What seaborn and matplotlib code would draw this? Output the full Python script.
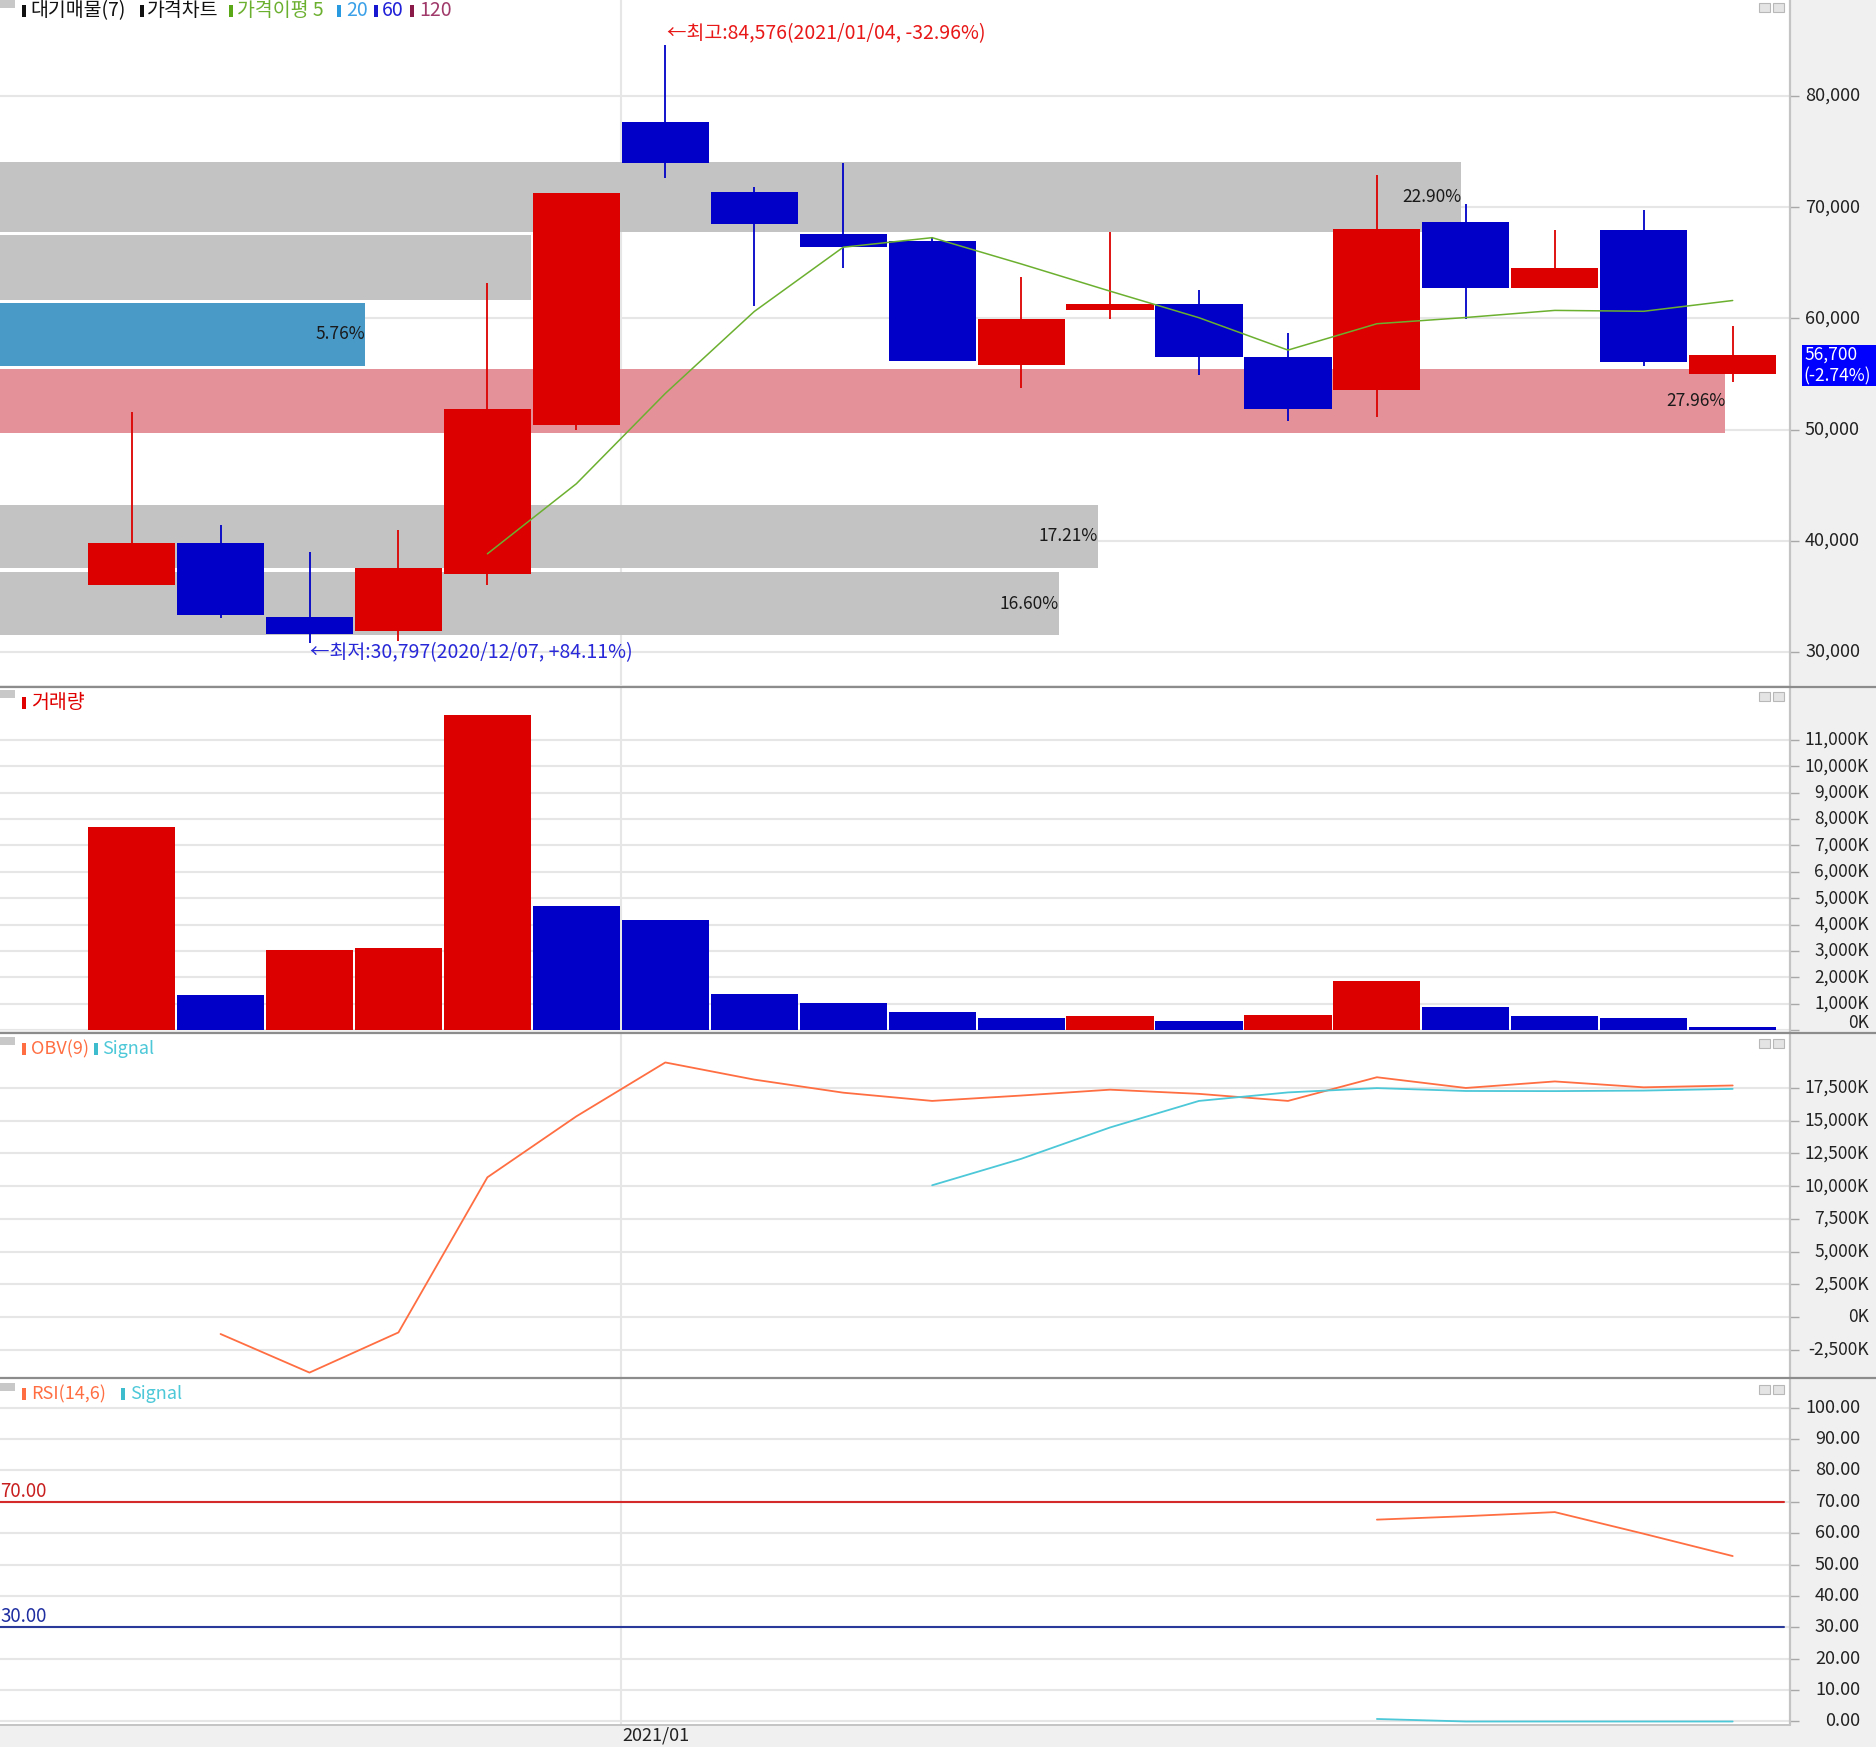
import numpy as np
import pandas as pd
import matplotlib
matplotlib.use("Agg")
import matplotlib.pyplot as plt
import matplotlib.transforms as mtransforms
from matplotlib.patches import Rectangle
from matplotlib.lines import Line2D
import seaborn as sns

# ---------------- data (weekly candles) ----------------
weeks = ['2020/11/23', '2020/11/30', '2020/12/07', '2020/12/14', '2020/12/21', '2020/12/28',
         '2021/01/04', '2021/01/11', '2021/01/18', '2021/01/25', '2021/02/01', '2021/02/08',
         '2021/02/15', '2021/02/22', '2021/03/01', '2021/03/08', '2021/03/15', '2021/03/22',
         '2021/03/29']
opens  = [36000, 39800, 33150, 31850, 37000, 50450, 77650, 71400, 67600, 67000, 55850, 60800,
          61250, 56500, 53600, 68700, 62750, 67950, 55000]
highs  = [51550, 41400, 38950, 41000, 63200, 71300, 84576, 71800, 73950, 67300, 63750, 67800,
          62550, 58650, 72900, 70300, 67950, 69750, 59300]
lows   = [36000, 33100, 30797, 30950, 36050, 49950, 72650, 61150, 64500, 56200, 53700, 59950,
          54900, 50800, 51100, 59950, 62750, 55750, 54250]
closes = [39800, 33350, 31600, 37550, 51850, 71300, 73950, 68450, 66400, 56200, 59950, 61250,
          56500, 51850, 68050, 62750, 64500, 56100, 56700]
last_change_pct = -2.74

volume_k   = [7690, 1320, 3026, 3125, 11960, 4717, 4164, 1380, 1039, 698, 459, 523, 345, 584,
              1873, 865, 523, 459, 106]
volume_dir = ['up', 'down', 'up', 'up', 'up', 'down', 'down', 'down', 'down', 'down', 'down',
              'up', 'down', 'up', 'up', 'down', 'down', 'down', 'down']

ma5_idx = list(range(4, 19))
ma5     = [38830, 45130, 53250, 60620, 66400, 67260, 64900, 62450, 60060, 57150, 59520, 60080,
           60720, 60640, 61610]

obv_idx   = list(range(1, 19))
obv_k     = [-1300, -4250, -1180, 10680, 15340, 19460, 18150, 17150, 16520, 16930, 17380, 17060,
             16520, 18330, 17510, 18010, 17560, 17700]
obv_sig_idx = list(range(9, 19))
obv_sig_k   = [10070, 12090, 14490, 16520, 17170, 17500, 17280, 17270, 17310, 17440]

rsi_idx = [14, 15, 16, 17, 18]
rsi     = [64.3, 65.4, 66.7, 59.8, 52.7]
rsi_sig = [0.8, 0.0, 0.0, 0.0, 0.0]

# supply (대기매물) bands
band_low   = [31500, 37550, 43600, 49650, 55750, 61670, 67760]
band_high  = [37220, 43260, 49350, 55450, 61360, 67460, 74060]
band_len   = [16.60, 17.21, 0.00, 27.04, 5.72, 8.33, 22.90]
band_pct   = [16.60, 17.21, 0.00, 27.96, 5.76, 8.33, 22.90]
band_kind  = ['gray', 'gray', 'gray', 'max', 'current', 'gray', 'gray']
band_label = [True, True, False, True, True, False, True]

price_ticks = [30000, 40000, 50000, 60000, 70000, 80000]
vol_ticks   = list(range(0, 12000, 1000))
obv_ticks   = list(range(-2500, 20000, 2500))
rsi_ticks   = list(range(0, 110, 10))
month_label = '2021/01'
month_pos   = 5.5

# ---------------- style ----------------
sns.set_theme(style="white")
plt.rcParams['font.family'] = ['Noto Sans CJK KR', 'DejaVu Sans']
plt.rcParams['axes.unicode_minus'] = False

RED = '#dc0000'
BLUE = '#0000c8'
GRID = '#e6e6e6'
C_GRAY_BAND = '#c3c3c3'
C_MAX_BAND = '#e59199'
C_CUR_BAND = '#4a9ac8'
C_MA5 = '#6cb030'
C_OBV = '#ff6e42'
C_SIG = '#4cc8d8'

W, H = 1876, 1747
fig = plt.figure(figsize=(W / 100, H / 100), dpi=100, facecolor='#f0f0f0')

def rect(x0, y0, x1, y1):
    return [x0 / W, 1 - y1 / H, (x1 - x0) / W, (y1 - y0) / H]

PR = 1789
XL = (-1.4795, 18.633)
n = len(closes)
idx = np.arange(n)

def style_axes(a, ticks, ylim):
    a.set_xlim(*XL)
    a.set_ylim(*ylim)
    a.set_yticks(ticks)
    a.set_xticks([])
    a.yaxis.tick_right()
    a.tick_params(axis='y', length=7, width=1, color='#a8a8a8', labelright=False, direction='out')
    for s in a.spines.values():
        s.set_visible(False)

def right_labels(a, ticks, fmt, xpix, fs, shift=None):
    tr = mtransforms.blended_transform_factory(fig.transFigure, a.transData)
    for t in ticks:
        dy = 0
        if shift and t in shift:
            dy = shift[t]
        a.annotate(fmt(t), xy=(xpix / W, t), xycoords=tr, xytext=(0, dy), textcoords='offset points',
                   ha='right', va='center', fontsize=fs, color='#222222', annotation_clip=False)

# ---------------- price panel ----------------
PYL = (27032, 88633)
axb = fig.add_axes(rect(0, 0, PR, 685), zorder=0)
axb.set_facecolor('white')
axb.set_xlim(0, PR / 63.8)
axb.set_ylim(*PYL)
axb.set_xticks([])
axb.set_yticks(price_ticks)
axb.tick_params(axis='y', length=0, labelleft=False)
axb.grid(axis='y', color=GRID, lw=1.5)
for s in axb.spines.values():
    s.set_visible(False)

ax = fig.add_axes(rect(0, 0, PR, 685), zorder=1)
ax.patch.set_alpha(0)
style_axes(ax, price_ticks, PYL)

# month grid line (below bands)
trm = mtransforms.blended_transform_factory(ax.transData, axb.transAxes)
axb.plot([month_pos, month_pos], [0, 1], transform=trm, color=GRID, lw=1.5, zorder=0.5)

band_colors = {'gray': C_GRAY_BAND, 'max': C_MAX_BAND, 'current': C_CUR_BAND}
for lo, hi, ln, pc, kind, show in zip(band_low, band_high, band_len, band_pct, band_kind, band_label):
    if ln <= 0:
        continue
    axb.barh((lo + hi) / 2, ln, height=hi - lo, left=0, color=band_colors[kind], linewidth=0, zorder=2)
    if show:
        axb.text(ln, (lo + hi) / 2, f"{pc:.2f}%", ha='right', va='center', fontsize=12.5,
                 color='#1a1a1a', zorder=3)

# candles
cols = [RED if c >= o else BLUE for o, c in zip(opens, closes)]
ax.vlines(idx, lows, highs, colors=cols, lw=1.3, zorder=3)
body_lo = [min(o, c) for o, c in zip(opens, closes)]
body_h = [max(abs(c - o), 150) for o, c in zip(opens, closes)]
ax.bar(idx, body_h, bottom=body_lo, width=0.98, color=cols, linewidth=0, zorder=4)

sns.lineplot(x=ma5_idx, y=ma5, ax=ax, color=C_MA5, linewidth=1.1, zorder=5, legend=False)

hi_i = int(np.argmax(highs))
lo_i = int(np.argmin(lows))
ax.annotate(f"←최고:{highs[hi_i]:,}({weeks[hi_i]}, -32.96%)", xy=(hi_i, highs[hi_i]),
            xytext=(1.5, 8.5), textcoords='offset points', ha='left', va='center',
            fontsize=14, color='#e81818', zorder=6)
ax.annotate(f"←최저:{lows[lo_i]:,}({weeks[lo_i]}, +84.11%)", xy=(lo_i, lows[lo_i]),
            xytext=(0.7, -6.5), textcoords='offset points', ha='left', va='center',
            fontsize=14, color='#2828d8', zorder=6)
ax.set_ylabel('')
ax.set_xlabel('')

right_labels(ax, price_ticks, lambda v: f"{v:,}", 1860, 13)

# last price tag
fig.add_artist(Rectangle((1802 / W, 1 - 386 / H), 74 / W, 41 / H, transform=fig.transFigure,
                         facecolor='#0000ff', edgecolor='none', zorder=10))
fig.text(1804 / W, 1 - 355 / H, f"{closes[-1]:,}", color='white', fontsize=12.5, va='center',
         ha='left', zorder=11)
fig.text(1803 / W, 1 - 376 / H, f"({last_change_pct:.2f}%)", color='white', fontsize=12.5,
         va='center', ha='left', zorder=11)

# ---------------- volume panel ----------------
axv = fig.add_axes(rect(0, 688, PR, 1030))
axv.set_facecolor('white')
style_axes(axv, vol_ticks, (0, 12969))
axv.grid(axis='y', color=GRID, lw=1.5)
axv.axvline(month_pos, color=GRID, lw=1.5, zorder=0.5)
vcols = [RED if d == 'up' else BLUE for d in volume_dir]
axv.bar(idx, volume_k, width=0.98, color=vcols, linewidth=0, zorder=3)
right_labels(axv, vol_ticks, lambda v: f"{v:,}K", 1869, 12.5, shift={0: 5})

# ---------------- OBV panel ----------------
axo = fig.add_axes(rect(0, 1034, PR, 1377))
axo.set_facecolor('white')
style_axes(axo, obv_ticks, (-4587, 21636))
axo.grid(axis='y', color=GRID, lw=1.5)
axo.axvline(month_pos, color=GRID, lw=1.5, zorder=0.5)
sns.lineplot(x=obv_idx, y=obv_k, ax=axo, color=C_OBV, linewidth=1.3, zorder=4, legend=False)
sns.lineplot(x=obv_sig_idx, y=obv_sig_k, ax=axo, color=C_SIG, linewidth=1.3, zorder=4, legend=False)
axo.set_ylabel('')
right_labels(axo, obv_ticks, lambda v: f"{v:,}K", 1869, 12.5)

# ---------------- RSI panel ----------------
axr = fig.add_axes(rect(0, 1379, PR, 1724))
axr.set_facecolor('white')
style_axes(axr, rsi_ticks, (-0.8, 109.1))
axr.grid(axis='y', color=GRID, lw=1.5)
axr.axvline(month_pos, color=GRID, lw=1.5, zorder=0.5)
axr.plot([XL[0], 18.58], [70, 70], color='#d42a2a', lw=1.5, zorder=3)
axr.plot([XL[0], 18.58], [30, 30], color='#2a3a9a', lw=1.5, zorder=3)
axr.text(XL[0] + 0.005, 70, '70.00', color='#c81e1e', fontsize=13.5, ha='left', va='bottom')
axr.text(XL[0] + 0.005, 30, '30.00', color='#1e2ea0', fontsize=13.5, ha='left', va='bottom')
sns.lineplot(x=rsi_idx, y=rsi, ax=axr, color=C_OBV, linewidth=1.3, zorder=4, legend=False)
sns.lineplot(x=rsi_idx, y=rsi_sig, ax=axr, color=C_SIG, linewidth=1.3, zorder=4, legend=False)
axr.set_ylabel('')
right_labels(axr, rsi_ticks, lambda v: f"{v:.2f}", 1860, 13)

# x label
trx = mtransforms.blended_transform_factory(axr.transData, fig.transFigure)
axr.text(month_pos + 0.02, 1 - 1736 / H, month_label, transform=trx, ha='left', va='center',
         fontsize=13, color='#222222', clip_on=False)

# ---------------- frame lines ----------------
def fline(x0, y0, x1, y1, color, lw):
    fig.add_artist(Line2D([x0 / W, x1 / W], [1 - y0 / H, 1 - y1 / H], transform=fig.transFigure,
                          color=color, lw=lw, zorder=9))

fline(PR + 0.5, 0, PR + 0.5, 1725, '#c4c4c4', 1.6)
fline(0, 1725, PR + 1, 1725, '#c4c4c4', 1.4)
for ysep in (686.5, 1032.5, 1378):
    fline(0, ysep, W, ysep, '#8c8c8c', 1.6)

# ---------------- legends ----------------
def marker(x, y, color):
    fig.add_artist(Rectangle((x / W, 1 - (y + 6) / H), 4 / W, 12 / H, transform=fig.transFigure,
                             facecolor=color, edgecolor='none', zorder=12))

def ftext(x, y, s, color, fs=14):
    fig.text(x / W, 1 - y / H, s, color=color, fontsize=fs, ha='left', va='center', zorder=12)

def toggle_box(y):
    fig.add_artist(Rectangle((0, 1 - (y + 8) / H), 15 / W, 8 / H, transform=fig.transFigure,
                             facecolor='#c8c8c8', edgecolor='none', zorder=12))

def corner_icons(y):
    for x in (1759, 1773):
        fig.add_artist(Rectangle((x / W, 1 - (y + 10) / H), 11 / W, 9 / H, transform=fig.transFigure,
                                 facecolor='#e4e4e4', edgecolor='#b8b8b8', lw=0.8, zorder=12))

# price legend
toggle_box(0)
ly = 11
marker(22, ly, '#111111'); ftext(30, ly, '대기매물(7)', '#111111')
marker(140, ly, '#111111'); ftext(147, ly, '가격차트', '#111111')
marker(229, ly, '#5aa818'); ftext(237, ly, '가격이평 5', '#6cb030')
marker(337, ly, '#2a9ae0'); ftext(346, ly, '20', '#3aa0e8')
marker(374, ly, '#1818d0'); ftext(382, ly, '60', '#2020d8')
marker(410, ly, '#8a1a48'); ftext(419, ly, '120', '#a03a6a')
corner_icons(2)

# volume legend
toggle_box(690)
marker(22, 703, '#e00000'); ftext(31, 703, '거래량', '#e00000')
corner_icons(691)

# OBV legend
toggle_box(1037)
marker(22, 1049, '#ff6e42'); ftext(31, 1049, 'OBV(9)', '#ff6e42', 13)
marker(94, 1049, '#3cbccc'); ftext(102, 1049, 'Signal', '#4cc8d8', 13)
corner_icons(1038)

# RSI legend
toggle_box(1383)
marker(22, 1394, '#ff6e42'); ftext(31, 1394, 'RSI(14,6)', '#ff6e42', 13)
marker(121, 1394, '#3cbccc'); ftext(130, 1394, 'Signal', '#4cc8d8', 13)
corner_icons(1384)

fig.savefig('out.png', dpi=100, facecolor=fig.get_facecolor())
